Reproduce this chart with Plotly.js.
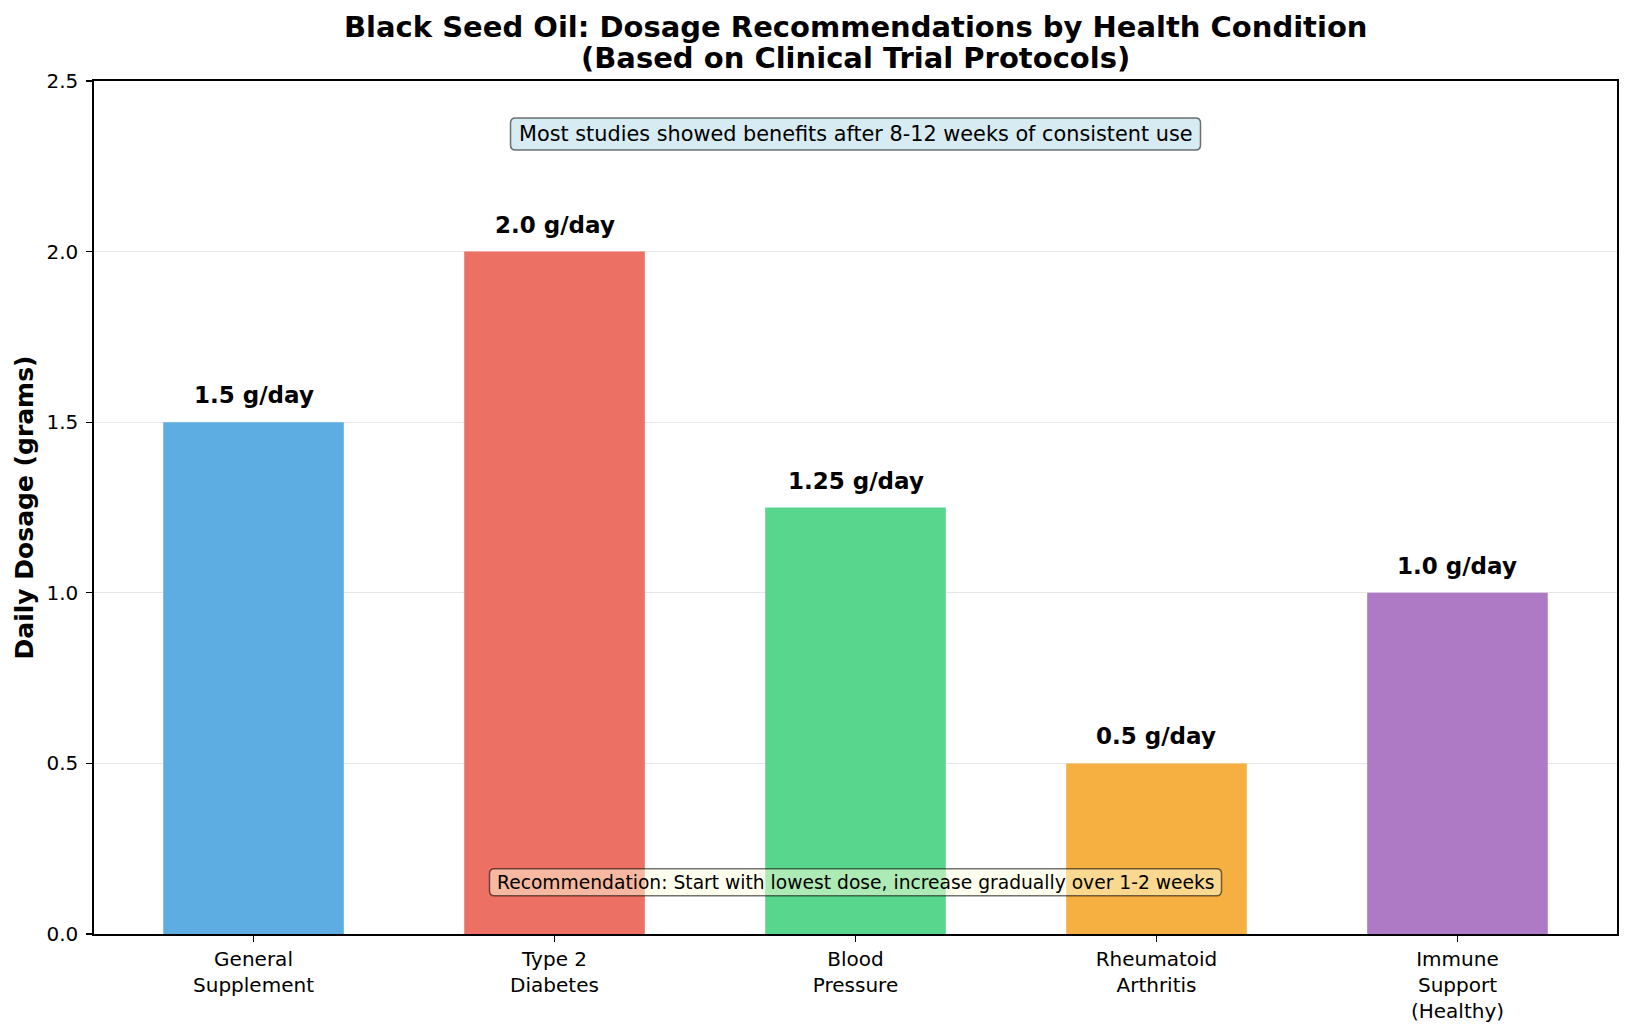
<!DOCTYPE html>
<html>
<head>
<meta charset="utf-8">
<script src="https://cdn.plot.ly/plotly-3.0.1.min.js"></script>
<style>
  html, body { margin: 0; padding: 0; background: #fff; }
  #chart { width: 1632px; height: 1030px; }
</style>
</head>
<body>
<div id="chart"></div>
<script>
// Daily black seed oil dosage by health condition (grams per day)
const conditions = [
  "General<br>Supplement",
  "Type 2<br>Diabetes",
  "Blood<br>Pressure",
  "Rheumatoid<br>Arthritis",
  "Immune<br>Support<br>(Healthy)"
];
const dosages = [1.5, 2.0, 1.25, 0.5, 1.0];
const barColors = ["#5DADE2", "#EC7063", "#58D68D", "#F5B041", "#AF7AC5"];
const yTicks = [0.0, 0.5, 1.0, 1.5, 2.0, 2.5];
const titleLines = [
  "Black Seed Oil: Dosage Recommendations by Health Condition",
  "(Based on Clinical Trial Protocols)"
];

const FONT = "DejaVu Sans, Liberation Sans, sans-serif";

const bars = {
  type: "bar",
  x: conditions,
  y: dosages,
  marker: { color: barColors, line: { width: 0 } },
  hoverinfo: "skip"
};

// Value labels above each bar
const valueLabels = conditions.map((c, i) => ({
  x: c,
  y: dosages[i],
  xref: "x",
  yref: "y",
  text: "<b>" + dosages[i] + (Number.isInteger(dosages[i]) ? ".0" : "") + " g/day</b>",
  showarrow: false,
  yanchor: "bottom",
  yshift: 12,
  font: { family: FONT, size: 23, color: "#000" }
}));

// Two-line bold title, centred over the plot area
const titleAnnotations = titleLines.map((line, i) => ({
  x: 0.5, y: 1, xref: "paper", yref: "paper",
  xanchor: "center", yanchor: "bottom",
  yshift: i === 0 ? 35 : 4,
  text: "<b>" + line + "</b>",
  showarrow: false,
  font: { family: FONT, size: 29, color: "#000" }
}));

// Rounded box outline (pixel units, centred on its anchor point)
function roundedBox(w, h, r) {
  const x0 = -w / 2, x1 = w / 2, y0 = -h / 2, y1 = h / 2;
  return `M ${x0 + r},${y0} L ${x1 - r},${y0} Q ${x1},${y0} ${x1},${y0 + r} ` +
         `L ${x1},${y1 - r} Q ${x1},${y1} ${x1 - r},${y1} ` +
         `L ${x0 + r},${y1} Q ${x0},${y1} ${x0},${y1 - r} ` +
         `L ${x0},${y0 + r} Q ${x0},${y0} ${x0 + r},${y0} Z`;
}

const topNote = {
  text: "Most studies showed benefits after 8-12 weeks of consistent use",
  y: 2.345, size: 20.8, w: 690, h: 32,
  fill: "rgba(173,216,230,0.5)"
};
const bottomNote = {
  text: "Recommendation: Start with lowest dose, increase gradually over 1-2 weeks",
  y: 0.152, size: 18.7, w: 732, h: 27,
  fill: "rgba(255,255,224,0.5)"
};

const noteBoxes = [topNote, bottomNote].map(n => ({
  type: "path",
  xref: "x", yref: "y",
  xsizemode: "pixel", ysizemode: "pixel",
  xanchor: 2, yanchor: n.y,
  path: roundedBox(n.w, n.h, 5),
  fillcolor: n.fill,
  line: { color: "rgba(0,0,0,0.55)", width: 1.5 },
  layer: "above"
}));

const noteTexts = [topNote, bottomNote].map(n => ({
  x: conditions[2], y: n.y, xref: "x", yref: "y",
  text: n.text,
  showarrow: false,
  font: { family: FONT, size: n.size, color: "#000" }
}));

const layout = {
  width: 1632,
  height: 1030,
  paper_bgcolor: "#fff",
  plot_bgcolor: "#fff",
  margin: { l: 94, r: 15, t: 81, b: 96 },
  showlegend: false,
  bargap: 0.4,
  font: { family: FONT, color: "#000" },
  xaxis: {
    type: "category",
    range: [-0.53, 4.53],
    showline: true,
    linecolor: "#000",
    linewidth: 1.7,
    mirror: true,
    ticks: "outside",
    ticklen: 6,
    tickwidth: 1.4,
    tickcolor: "#000",
    tickfont: { family: FONT, size: 20, color: "#000" },
    showgrid: false,
    zeroline: false
  },
  yaxis: {
    range: [0, 2.5],
    tickvals: yTicks,
    tickformat: ".1f",
    showline: true,
    linecolor: "#000",
    linewidth: 1.7,
    mirror: true,
    ticks: "outside",
    ticklen: 6,
    tickwidth: 1.4,
    tickcolor: "#000",
    ticklabelstandoff: 4,
    tickfont: { family: FONT, size: 20, color: "#000" },
    showgrid: true,
    gridcolor: "#e6e6e6",
    gridwidth: 1,
    zeroline: false,
    title: {
      text: "<b>Daily Dosage (grams)</b>",
      font: { family: FONT, size: 25, color: "#000" },
      standoff: 6
    }
  },
  shapes: noteBoxes,
  annotations: titleAnnotations.concat(valueLabels, noteTexts)
};

Plotly.newPlot("chart", [bars], layout, { displayModeBar: false, staticPlot: true });
</script>
</body>
</html>
